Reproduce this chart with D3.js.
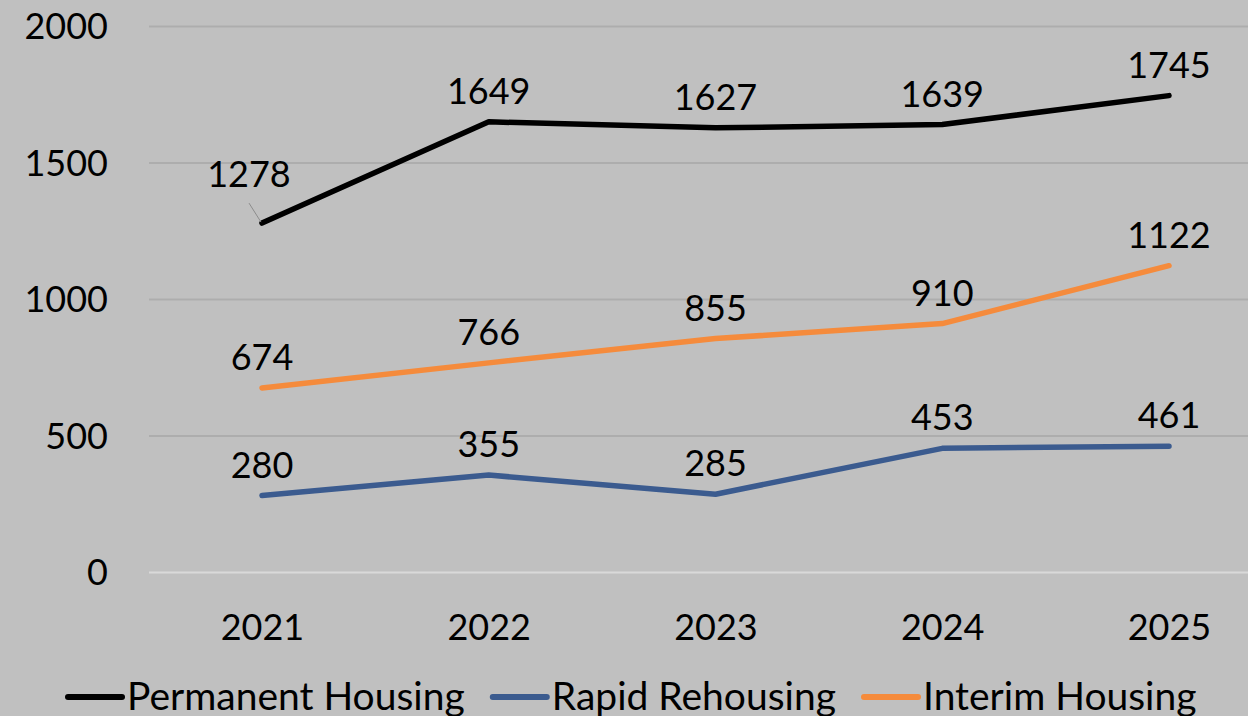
<!DOCTYPE html>
<html>
<head>
<meta charset="utf-8">
<script src="https://cdn.jsdelivr.net/npm/d3@7"></script>
<style>
  html, body { margin: 0; padding: 0; background: #c0c0c0; overflow: hidden; }
  svg text { font-family: Lato, "Open Sans", sans-serif; fill: #000; }
</style>
</head>
<body>
<div id="chart"></div>
<script>
const years = ["2021", "2022", "2023", "2024", "2025"];
const permanentHousing = [1278, 1649, 1627, 1639, 1745];
const rapidRehousing = [280, 355, 285, 453, 461];
const interimHousing = [674, 766, 855, 910, 1122];
const yTicks = [0, 500, 1000, 1500, 2000];

const series = [
    { name: "Permanent Housing", values: permanentHousing, color: "#000000" },
    { name: "Rapid Rehousing", values: rapidRehousing, color: "#3b5b8f" },
    { name: "Interim Housing", values: interimHousing, color: "#f58b3c" }
];

const width = 1248;
const height = 716;
const fontSize = 36;
const legendFontSize = 39;

const svg = d3.select("#chart").append("svg")
    .attr("width", width)
    .attr("height", height)
    .style("display", "block");

svg.append("rect")
    .attr("width", width)
    .attr("height", height)
    .attr("fill", "#c0c0c0");

// Excel-like category axis: 5 bands starting at the plot's left edge
const x = d3.scalePoint()
    .domain(years)
    .range([262, 1169]);

const y = d3.scaleLinear()
    .domain([0, 2000])
    .range([572, 26]);

// gridlines
const grid = svg.append("g")
    .attr("transform", "translate(149,0)")
    .call(d3.axisLeft(y).tickValues(yTicks).tickSize(-(width - 149)).tickFormat(""));
grid.select(".domain").remove();
grid.selectAll(".tick line")
    .attr("stroke", d => d === 0 ? "#d9d9d9" : "#adadad")
    .attr("stroke-width", 2);

// y axis labels
const yAxis = svg.append("g")
    .attr("transform", "translate(108,0)")
    .call(d3.axisLeft(y).tickValues(yTicks).tickSize(0).tickPadding(0).tickFormat(d3.format("d")));
yAxis.select(".domain").remove();
yAxis.selectAll("text")
    .attr("font-size", fontSize)
    .attr("dy", "0.35em");

// x axis labels
const xAxis = svg.append("g")
    .attr("transform", "translate(0,572)")
    .call(d3.axisBottom(x).tickSize(0).tickPadding(0));
xAxis.select(".domain").remove();
xAxis.selectAll("text")
    .attr("font-size", fontSize)
    .attr("dy", null)
    .attr("y", 68);

// lines
const line = d3.line()
    .x((d, i) => x(years[i]))
    .y(d => y(d));

svg.selectAll("path.series")
    .data(series)
    .enter().append("path")
    .attr("class", "series")
    .attr("d", d => line(d.values))
    .attr("fill", "none")
    .attr("stroke", d => d.color)
    .attr("stroke-width", 5.5)
    .attr("stroke-linecap", "round")
    .attr("stroke-linejoin", "round");

// data labels
series.forEach(s => {
    s.values.forEach((v, i) => {
        const px = x(years[i]);
        const py = y(v);
        // first Permanent Housing label was dragged up-left with a leader line
        const moved = s.name === "Permanent Housing" && i === 0;
        const lx = moved ? px - 13 : px;
        const ly = moved ? py - 36 : py - 18;
        if (moved) {
            svg.append("line")
                .attr("x1", px - 13).attr("y1", py - 20)
                .attr("x2", px - 1).attr("y2", py - 1)
                .attr("stroke", "#8c8c8c")
                .attr("stroke-width", 1);
        }
        svg.append("text")
            .attr("x", lx)
            .attr("y", ly)
            .attr("text-anchor", "middle")
            .attr("font-size", fontSize)
            .text(v);
    });
});

// legend
const legend = svg.append("g").attr("transform", "translate(68,710)");
let lx = 0;
series.forEach(s => {
    const item = legend.append("g").attr("transform", `translate(${lx},0)`);
    item.append("line")
        .attr("x1", 0).attr("x2", 54)
        .attr("y1", -13).attr("y2", -13)
        .attr("stroke", s.color)
        .attr("stroke-width", 6)
        .attr("stroke-linecap", "round");
    const t = item.append("text")
        .attr("x", 59)
        .attr("y", 0)
        .attr("font-size", legendFontSize)
        .text(s.name);
    lx += 59 + t.node().getComputedTextLength() + 28;
});
</script>
</body>
</html>
